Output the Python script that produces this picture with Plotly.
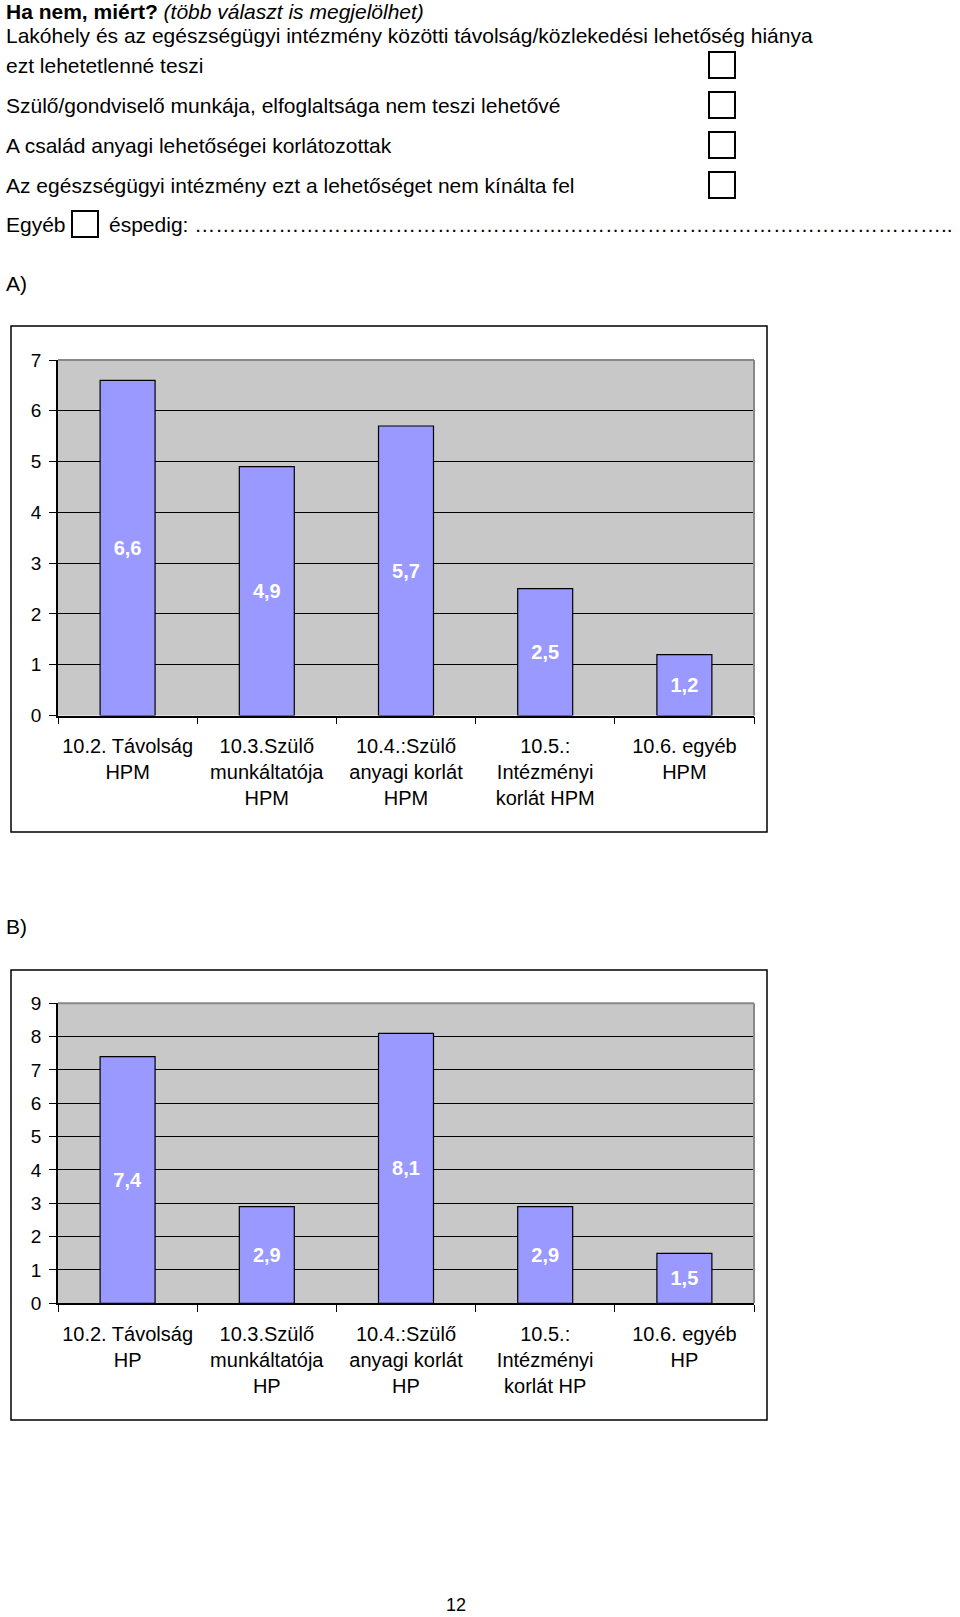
import plotly.graph_objects as go

W, H = 960, 1617

# ---- data ----
cats_a = ["10.2. Távolság<br>HPM", "10.3.Szülő<br>munkáltatója<br>HPM", "10.4.:Szülő<br>anyagi korlát<br>HPM",
          "10.5.:<br>Intézményi<br>korlát HPM", "10.6. egyéb<br>HPM"]
vals_a = [6.6, 4.9, 5.7, 2.5, 1.2]
cats_b = ["10.2. Távolság<br>HP", "10.3.Szülő<br>munkáltatója<br>HP", "10.4.:Szülő<br>anyagi korlát<br>HP",
          "10.5.:<br>Intézményi<br>korlát HP", "10.6. egyéb<br>HP"]
vals_b = [7.4, 2.9, 8.1, 2.9, 1.5]
ticks_a = [0, 1, 2, 3, 4, 5, 6, 7]
ticks_b = [0, 1, 2, 3, 4, 5, 6, 7, 8, 9]

question_lines = [
    "<b>Ha nem, miért?</b> <i>(több választ is megjelölhet)</i>",
    "Lakóhely és az egészségügyi intézmény közötti távolság/közlekedési lehetőség hiánya",
    "ezt lehetetlenné teszi",
    "Szülő/gondviselő munkája, elfoglaltsága nem teszi lehetővé",
    "A család anyagi lehetőségei korlátozottak",
    "Az egészségügyi intézmény ezt a lehetőséget nem kínálta fel",
]
other_label = "Egyéb"
other_rest = "éspedig: " + "…" * 8 + ".." + "…" * 27 + ".."
page_number = "12"

FONT = "Liberation Sans, Arial, sans-serif"
BAR = "#9999FF"
BG = "#C8C8C8"


def px(x):
    return x / W


def py(y):
    return 1 - y / H


fig = go.Figure()
for cats, vals, xa, ya in [(cats_a, vals_a, "x", "y"), (cats_b, vals_b, "x2", "y2")]:
    fig.add_trace(go.Bar(x=cats, y=vals, xaxis=xa, yaxis=ya, width=0.395,
                         marker=dict(color=BAR, line=dict(color="black", width=1.2)),
                         texttemplate="%{y:.1f}", textposition="inside", insidetextanchor="middle",
                         constraintext="none",
                         textfont=dict(family=FONT, size=20, color="white", weight="bold"),
                         showlegend=False, hoverinfo="skip"))

xd = [px(58), px(754)]
common_x = dict(domain=xd, type="category", tickson="boundaries", ticks="outside", ticklen=7,
                tickcolor="black", tickwidth=1.2, showline=True, linecolor="black", linewidth=1.5,
                showgrid=False, zeroline=False, tickangle=0, ticklabelstandoff=12, automargin=False,
                tickfont=dict(family=FONT, size=20, color="black"), fixedrange=True)
common_y = dict(ticks="outside", ticklen=7, tickcolor="black", tickwidth=1.2, showline=True,
                linecolor="black", linewidth=1.5, showgrid=True, gridcolor="black", gridwidth=1.2,
                zeroline=False, tickfont=dict(family=FONT, size=19, color="black"), automargin=False,
                ticklabelstandoff=4, fixedrange=True)

fig.update_layout(
    width=W, height=H, margin=dict(l=0, r=0, t=0, b=0, pad=0, autoexpand=False),
    paper_bgcolor="white", plot_bgcolor=BG, separators=", ",
    font=dict(family=FONT, color="black"),
    xaxis=dict(**common_x, anchor="y"),
    yaxis=dict(**common_y, domain=[py(715.5), py(360)], range=[0, 7], tickvals=ticks_a, anchor="x"),
    xaxis2=dict(**common_x, anchor="y2"),
    yaxis2=dict(**common_y, domain=[py(1303.3), py(1003.3)], range=[0, 9], tickvals=ticks_b, anchor="x2"),
)

shapes = []
for (x0, y0, x1, y1) in [(11, 326, 767, 832), (11, 970, 767, 1420)]:
    shapes.append(dict(type="rect", xref="paper", yref="paper", x0=px(x0), x1=px(x1), y0=py(y0), y1=py(y1),
                       line=dict(color="black", width=1.5), fillcolor="rgba(0,0,0,0)", layer="above"))
for xa, ya in [("x", "y"), ("x2", "y2")]:
    shapes.append(dict(type="line", xref=f"{xa} domain", yref=f"{ya} domain", x0=0, x1=1, y0=1, y1=1,
                       line=dict(color="#888888", width=2), layer="above"))
    shapes.append(dict(type="line", xref=f"{xa} domain", yref=f"{ya} domain", x0=1, x1=1, y0=0, y1=1,
                       line=dict(color="#888888", width=2), layer="above"))
for (x0, y0) in [(709, 52), (709, 92), (709, 132), (709, 172), (72, 211)]:
    shapes.append(dict(type="rect", xref="paper", yref="paper", x0=px(x0), x1=px(x0 + 26),
                       y0=py(y0), y1=py(y0 + 26), line=dict(color="black", width=2),
                       fillcolor="white"))
fig.update_layout(shapes=shapes)

ann = []
line_y = [11.5, 35, 65, 105, 145, 185]
for t, y in zip(question_lines, line_y):
    ann.append(dict(text=t, x=px(4), y=py(y), xref="paper", yref="paper", xanchor="left", yanchor="middle",
                    showarrow=False, font=dict(family=FONT, size=21, color="black")))
ann.append(dict(text=other_label, x=px(4), y=py(225), xref="paper", yref="paper", xanchor="left",
                yanchor="middle", showarrow=False, font=dict(family=FONT, size=21, color="black")))
ann.append(dict(text=other_rest, x=px(107), y=py(225), xref="paper", yref="paper", xanchor="left",
                yanchor="middle", showarrow=False, font=dict(family=FONT, size=21, color="black")))
ann.append(dict(text="A)", x=px(4), y=py(283), xref="paper", yref="paper", xanchor="left", yanchor="middle",
                showarrow=False, font=dict(family=FONT, size=21, color="black")))
ann.append(dict(text="B)", x=px(4), y=py(926), xref="paper", yref="paper", xanchor="left", yanchor="middle",
                showarrow=False, font=dict(family=FONT, size=21, color="black")))
ann.append(dict(text=page_number, x=px(456), y=py(1616), xref="paper", yref="paper", xanchor="center",
                yanchor="bottom", borderpad=0, showarrow=False, font=dict(family=FONT, size=18, color="black")))
fig.update_layout(annotations=ann)

fig.write_html("out.html", config={"displayModeBar": False},
               post_script="document.body.style.margin='0';document.body.style.overflow='hidden';")
